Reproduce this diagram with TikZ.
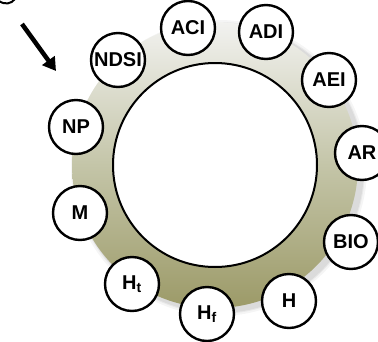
\documentclass[tikz,border=0pt]{standalone}
\usepackage{fontspec}
\setmainfont{Liberation Sans}
\usetikzlibrary{arrows.meta}
\definecolor{ringtop}{HTML}{F2F2F0}
\definecolor{ringmid}{HTML}{C4C5A8}
\definecolor{ringbot}{HTML}{9C9A68}
\tikzset{
  tag/.style={circle, draw=black, line width=2.4pt, fill=white, minimum size=54pt, inner sep=0pt, font=\bfseries\fontsize{20}{20}\selectfont},
}
\begin{document}
\begin{tikzpicture}[x=1pt,y=-1pt]
\useasboundingbox (0,0) rectangle (378,341);
\coordinate (c) at (215,165);
% soft shadow
\foreach \r/\o in {148/0.04,146/0.05,145/0.06}{
  \fill[black,opacity=\o] (219,168) circle (\r);
}
% ring
\shade[top color=ringtop, bottom color=ringbot, middle color=ringmid] (c) circle (143);
\draw[line width=2pt, fill=white] (c) circle (102);
% tags
\node[tag] (ACI)  at (188,28)  {ACI};
\node[tag] (ADI)  at (266,32)  {ADI};
\node[tag] (AEI)  at (329,80)  {AEI};
\node[tag] (AR)   at (362,153) {AR};
\node[tag] (BIO)  at (351,242) {BIO};
\node[tag] (H)    at (289,301) {H};
\node[tag] (Hf)   at (207,314) {H\textsubscript{f}};
\node[tag] (Ht)   at (132,284) {H\textsubscript{t}};
\node[tag] (M)    at (80,213)  {M};
\node[tag] (NP)   at (76,127)  {NP};
\node[tag] (NDSI) at (118,60)  {NDSI};
% arrow
\coordinate (arrS) at (22,24);
\coordinate (arrE) at (56,71);
\draw[line width=4.5pt, -{Triangle[length=13pt,width=15pt]}] (arrS) -- (arrE);
% partial glyph at top-left corner
\draw[line width=2pt] (-1,1) .. controls (5,5) and (11,4) .. (15,-1);
\end{tikzpicture}
\end{document}
